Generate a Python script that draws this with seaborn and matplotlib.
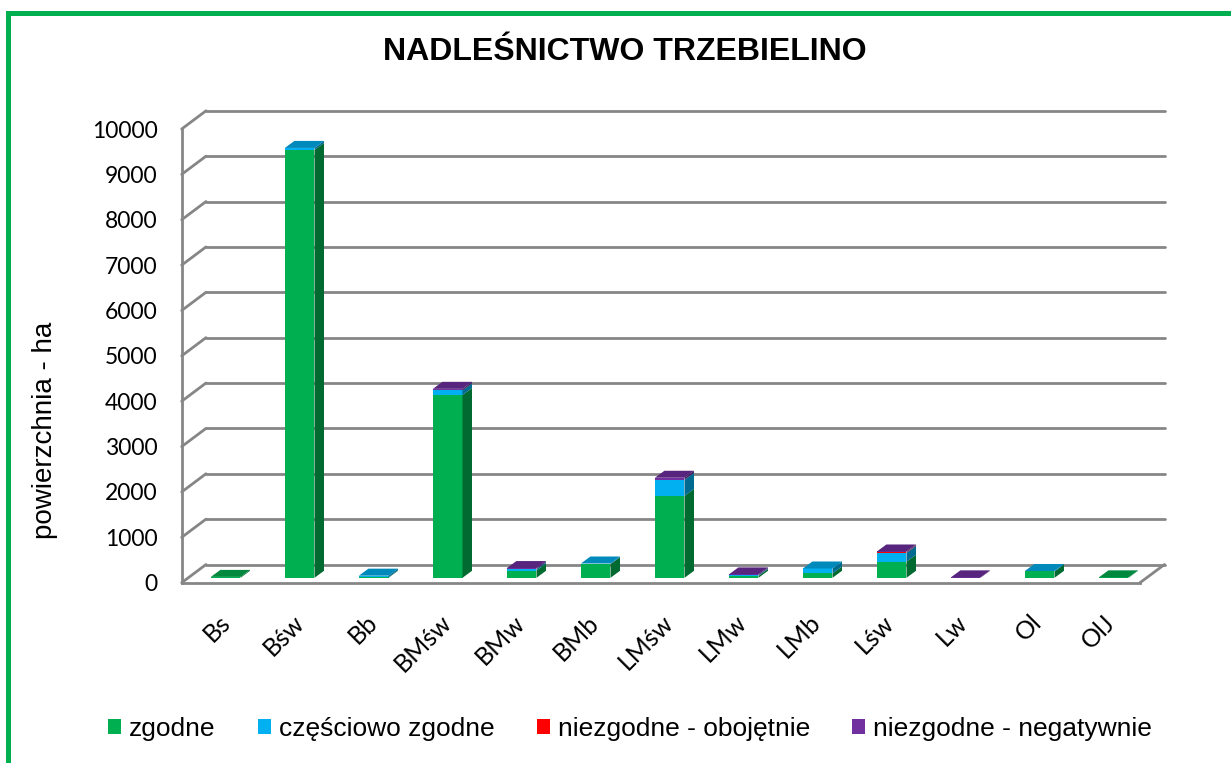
import numpy as np
import pandas as pd
import matplotlib
matplotlib.use("Agg")
import matplotlib.pyplot as plt
import seaborn as sns
from matplotlib.patches import Polygon, Rectangle, Patch, ConnectionPatch
from matplotlib.colors import to_rgb

# data (ha)
categories = ["Bs", "Bśw", "Bb", "BMśw", "BMw", "BMb", "LMśw", "LMw", "LMb", "Lśw", "Lw", "Ol", "OlJ"]
zgodne = [20, 9430, 12, 4030, 160, 300, 1805, 40, 95, 355, 0, 140, 10]
czesciowo = [0, 45, 35, 100, 30, 15, 355, 15, 110, 195, 0, 10, 0]
obojetnie = [0, 0, 0, 0, 0, 0, 0, 0, 0, 10, 0, 0, 0]
negatywnie = [0, 0, 0, 35, 25, 0, 45, 20, 0, 20, 10, 0, 0]
series_names = ["zgodne", "częściowo zgodne", "niezgodne - obojętnie", "niezgodne - negatywnie"]
series_colors = ["#00B050", "#00B0F0", "#FF0000", "#7030A0"]
y_ticks = list(range(0, 10001, 1000))

sns.set_style("white")
plt.rcParams["font.family"] = ["Liberation Sans", "DejaVu Sans"]
plt.rcParams["text.color"] = "black"
plt.rcParams["xtick.labelcolor"] = "black"
plt.rcParams["ytick.labelcolor"] = "black"

W, H = 1231, 763
GRID = "#868686"
fig = plt.figure(figsize=(W / 100, H / 100), dpi=100)


def px_axes(left, right, y_bottom, y_top):
    return fig.add_axes([left / W, 1 - y_bottom / H, (right - left) / W, (y_bottom - y_top) / H])


n = len(categories)
# back wall, front plane, plane where the bars stand
ax_back = px_axes(206, 1164.5, 564.5, 110.8)
ax = px_axes(181.7, 1140, 582.7, 129)
ax_bar = px_axes(188.7, 188.7 + 74 * n, 577.8, 124.1)

for a in (ax_back, ax, ax_bar):
    a.set_facecolor("none")
    a.set_xlim(-0.5, n - 0.5)
    a.set_ylim(0, 10000)

# back wall grid
ax_back.set_yticks(y_ticks)
ax_back.set_xticks([])
ax_back.tick_params(axis="y", length=0, labelleft=False)
ax_back.grid(axis="y", color=GRID, linewidth=2)
for ln in ax_back.get_ygridlines():
    ln.set_clip_on(False)
for s in ax_back.spines.values():
    s.set_visible(False)

# front axes: left wall edge + floor front edge
for side in ("top", "right"):
    ax.spines[side].set_visible(False)
for side in ("left", "bottom"):
    ax.spines[side].set_color(GRID)
    ax.spines[side].set_linewidth(2)
ax.set_yticks(y_ticks)
ax.set_yticklabels([str(v) for v in y_ticks], fontfamily="Lato", fontsize=16.5)
ax.tick_params(axis="y", direction="out", length=4.8, width=2, color=GRID, pad=12.5)
ax.set_xticks(np.arange(n))
ax.set_xticklabels(categories, fontfamily="Lato", fontsize=18, rotation=45,
                   ha="right", va="top", rotation_mode="anchor")
ax.set_xticks(np.arange(-0.5, n, 1.0), minor=True)
ax.tick_params(axis="x", which="major", length=0, pad=20)
ax.tick_params(axis="x", which="minor", direction="out", length=6.5, width=2, color=GRID)
ax.grid(False)

# side diagonals linking front plane and back wall
for v in y_ticks:
    fig.add_artist(ConnectionPatch((-0.5, v), (-0.5, v), coordsA=ax.transData,
                                   coordsB=ax_back.transData, color=GRID, linewidth=2))
fig.add_artist(ConnectionPatch((n - 0.5, 0), (n - 0.5, 0), coordsA=ax.transData,
                               coordsB=ax_back.transData, color=GRID, linewidth=2))

# stacked bars: cumulative layers, tallest first
series = [zgodne, czesciowo, obojetnie, negatywnie]
cum = np.cumsum(np.array(series, dtype=float), axis=0)
bar_w = 0.4
for k in range(len(series) - 1, -1, -1):
    sns.barplot(x=categories, y=cum[k], color=series_colors[k], width=bar_w,
                saturation=1, linewidth=0, ax=ax_bar, zorder=2)
ax_bar.set_xlim(-0.5, n - 0.5)
ax_bar.set_ylim(0, 10000)
ax_bar.axis("off")

# depth of the columns, converted to data units
ddx = 9.5 / 74
ddy = 7 / (453.7 / 10000)


def shade(c, f):
    return tuple(np.array(to_rgb(c)) * f)


for i in range(n):
    xr = i + bar_w / 2
    xl = i - bar_w / 2
    bottom = 0.0
    top_color = None
    for k in range(len(series)):
        val = series[k][i]
        if val <= 0:
            continue
        t = bottom + val
        ax_bar.add_patch(Polygon([(xr, bottom), (xr, t), (xr + ddx, t + ddy), (xr + ddx, bottom + ddy)],
                                 closed=True, facecolor=shade(series_colors[k], 0.6),
                                 edgecolor="none", zorder=3, clip_on=False))
        bottom = t
        top_color = series_colors[k]
    if top_color is not None:
        ax_bar.add_patch(Polygon([(xl, bottom), (xr, bottom), (xr + ddx, bottom + ddy), (xl + ddx, bottom + ddy)],
                                 closed=True, facecolor=shade(top_color, 0.78),
                                 edgecolor="none", zorder=3, clip_on=False))

fig.text(625 / W, 1 - 52 / H, "NADLEŚNICTWO TRZEBIELINO", ha="center", va="center",
         fontsize=23, fontweight="bold")
fig.text(45 / W, 1 - 430 / H, "powierzchnia - ha", ha="center", va="center",
         rotation=90, fontsize=20)

handles = [Patch(facecolor=c, edgecolor="none") for c in series_colors]
fig.legend(handles, series_names, loc="center", bbox_to_anchor=(630 / W, 1 - 729 / H),
           ncol=4, frameon=False, fontsize=19, handlelength=0.5, handleheight=0.5,
           handletextpad=0.3, columnspacing=1.6)

# green chart frame (cut off on the right and bottom, as in the screenshot)
fig.add_artist(Rectangle((7.5 / W, -0.1), 1.2, 1.1 - 12.5 / H, transform=fig.transFigure,
                         fill=False, edgecolor="#00B050", linewidth=3.6, clip_on=False))

fig.savefig("out.png", dpi=100)
